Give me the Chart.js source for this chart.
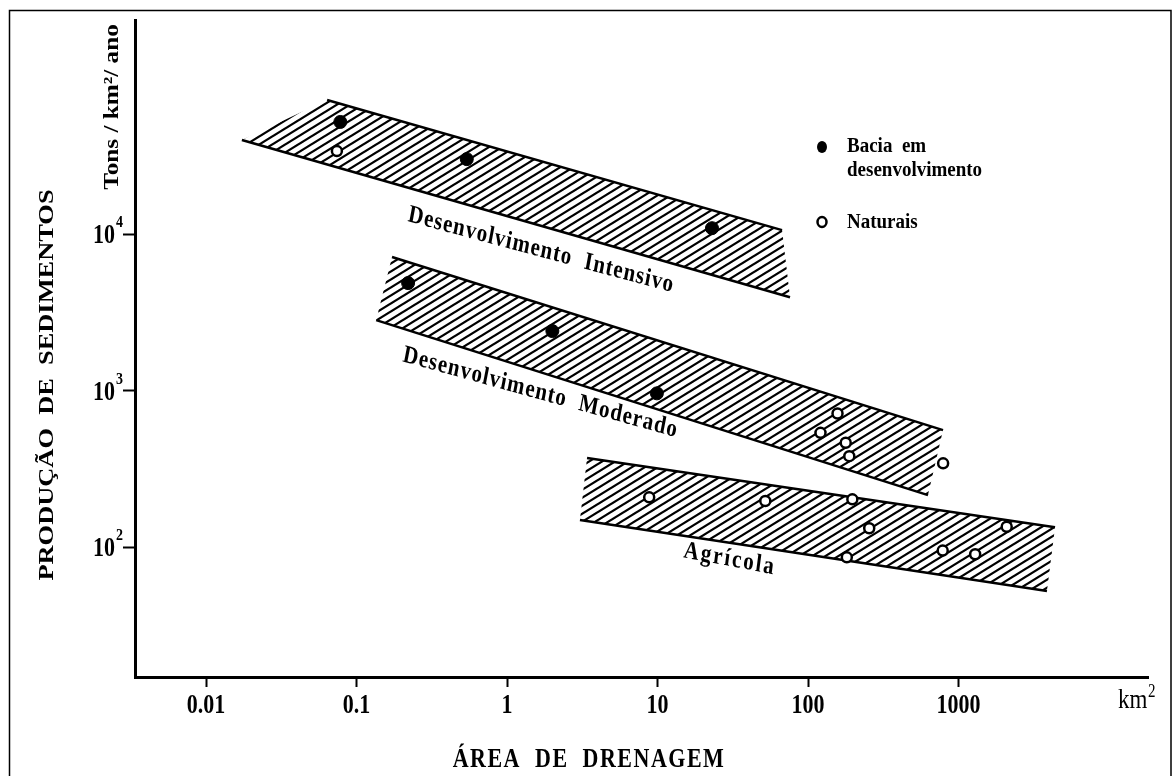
<!DOCTYPE html>
<html lang="pt">
<head>
<meta charset="utf-8">
<title>Produção de sedimentos x área de drenagem</title>
<script src="https://cdn.jsdelivr.net/npm/chart.js@4.4.1/dist/chart.umd.min.js"></script>
<style>
    html, body { margin: 0; padding: 0; background: #fff; }
    canvas { display: block; }
</style>
</head>
<body>
<canvas id="sedimentosChart" width="1173" height="776"></canvas>
<script>
// Eixos (escala log-log)
var xTicks = [0.01, 0.1, 1, 10, 100, 1000];
var xTickLabels = ["0.01", "0.1", "1", "10", "100", "1000"];
var yTicks = [100, 1000, 10000];
var yTickBase = "10";
var yTickExp = ["2", "3", "4"];
var xMin = 0.00337, xMax = 18160;
var yMin = 14.8, yMax = 233000;

// Bacia em desenvolvimento (pontos cheios)
var baciaX = [0.078, 0.54, 23, 0.22, 2.0, 9.9];
var baciaY = [52000, 30100, 10900, 4860, 2400, 960];

// Naturais (pontos vazios)
var naturaisX = [0.074, 157, 121, 178, 188, 790, 8.8, 52, 197, 255, 181, 785, 1290, 2090];
var naturaisY = [33900, 714, 537, 464, 381, 343, 208, 197, 202, 132, 86, 95, 90, 135];

// Faixas hachuradas: canto inf. esq., sup. esq., sup. dir., inf. dir.
var intensivoX = [0.0173, 0.0637, 67.2, 75.9];
var intensivoY = [39900, 71800, 10600, 3950];
var moderadoX = [0.135, 0.172, 789, 627];
var moderadoY = [2820, 7130, 559, 215];
var agricolaX = [3.05, 3.40, 4380, 3870];
var agricolaY = [149, 371, 134, 52.4];

var faixaNomes = ["Desenvolvimento  Intensivo", "Desenvolvimento  Moderado", "Agrícola"];

// onde escrever o nome de cada faixa (coordenadas do grafico) e inclinação na tela
var rotulosPos = [
    { x: 0.217, y: 12100, ang: 15, esp: "1px" },
    { x: 0.2005, y: 1542, ang: 15.5, esp: "1px" },
    { x: 14.77, y: 86.3, ang: 10.7, esp: "2px" }
];

var serif = "'Liberation Serif', 'Times New Roman', serif";
var K = 1.2; // a figura original e esticada na vertical
var canvas = document.getElementById("sedimentosChart");
var ctx = canvas.getContext("2d");

// padrão de hachura diagonal (linhas subindo para a direita)
function hachura() {
    var w = 13, h = 8;
    var tile = document.createElement("canvas");
    tile.width = w;
    tile.height = h;
    var g = tile.getContext("2d");
    g.strokeStyle = "#000";
    g.lineWidth = 2.2;
    for (var k = -1; k <= 1; k++) {
        g.beginPath();
        g.moveTo(k * w - w, 2 * h);
        g.lineTo(k * w + 2 * w, -h);
        g.stroke();
    }
    return ctx.createPattern(tile, "repeat");
}
var padrao = hachura();

function pts(xs, ys, idx) {
    return idx.map(function (i) { return { x: xs[i], y: ys[i] }; });
}

function faixa(xs, ys) {
    // cadeia de cima e de baixo, do canto mais a esquerda ao mais a direita
    var sup = [0, 1, 2], inf = [0, 3];
    if (xs[3] > xs[2]) sup.push(3); else inf.push(2);
    var semLinha = "rgba(0,0,0,0)";
    return [
        { data: pts(xs, ys, sup), fill: "+1", backgroundColor: padrao, borderColor: semLinha, borderWidth: 1, pointRadius: 0, order: 5 },
        { data: pts(xs, ys, inf), fill: false, borderColor: semLinha, borderWidth: 1, pointRadius: 0, order: 5 },
        { data: pts(xs, ys, [1, 2]), fill: false, borderColor: "#000", borderWidth: 2.5, pointRadius: 0, order: 3 },
        { data: pts(xs, ys, [0, 3]), fill: false, borderColor: "#000", borderWidth: 2.5, pointRadius: 0, order: 3 }
    ];
}

var datasets = []
    .concat(faixa(intensivoX, intensivoY))
    .concat(faixa(moderadoX, moderadoY))
    .concat(faixa(agricolaX, agricolaY));

datasets.push({
    label: "Bacia em desenvolvimento",
    data: pts(baciaX, baciaY, baciaX.map(function (v, i) { return i; })),
    showLine: false, pointRadius: 6.5, pointBackgroundColor: "#000",
    pointBorderColor: "#000", pointBorderWidth: 1, order: 0
});
datasets.push({
    label: "Naturais",
    data: pts(naturaisX, naturaisY, naturaisX.map(function (v, i) { return i; })),
    showLine: false, pointRadius: 5, pointBackgroundColor: "#fff",
    pointBorderColor: "#000", pointBorderWidth: 2.5, order: 1
});

// escreve texto com o mesmo esticamento vertical da figura
function escreve(c, txt, x, y, o) {
    var k = o.k || K;
    c.save();
    c.translate(x, y);
    c.scale(1, k);
    if (o.rot) c.rotate(o.rot);
    if (o.ang) c.rotate(Math.atan(Math.tan(o.ang * Math.PI / 180) / k));
    c.font = o.font;
    c.letterSpacing = o.esp || "0px";
    c.textAlign = o.align || "left";
    c.textBaseline = o.base || "alphabetic";
    c.fillText(txt, 0, 0);
    c.restore();
}

// textos, legenda e moldura
var textosPlugin = {
    id: "textos",
    afterDraw: function (chart) {
        var c = chart.ctx;
        var sx = chart.scales.x, sy = chart.scales.y;
        c.save();
        c.fillStyle = "#000";
        c.strokeStyle = "#000";

        // moldura
        c.lineWidth = 1.5;
        c.beginPath();
        c.moveTo(9.5, 776);
        c.lineTo(9.5, 10.5);
        c.lineTo(1171, 10.5);
        c.lineTo(1171, 776);
        c.stroke();

        // rotulos dos ticks
        xTicks.forEach(function (v, i) {
            escreve(c, xTickLabels[i], sx.getPixelForValue(v), 713,
                { font: "bold 22px " + serif, align: "center" });
        });
        yTicks.forEach(function (v, i) {
            var py = sy.getPixelForValue(v);
            escreve(c, yTickBase, 115, py + 9, { font: "bold 22px " + serif, align: "right" });
            escreve(c, yTickExp[i], 116, py - 7, { font: "bold 14px " + serif });
        });

        // titulos dos eixos
        escreve(c, "PRODUÇÃO  DE  SEDIMENTOS", 47, 385,
            { font: "bold 22px " + serif, rot: -Math.PI / 2, align: "center", base: "middle" });
        escreve(c, "Tons / km²/ ano", 113, 107,
            { font: "bold 21px " + serif, rot: -Math.PI / 2, align: "center", base: "middle" });
        escreve(c, "ÁREA  DE  DRENAGEM", 589, 767,
            { font: "bold 22px " + serif, align: "center", esp: "1.5px" });
        escreve(c, "km", 1118, 708, { font: "23px " + serif });
        escreve(c, "2", 1148, 697, { font: "15px " + serif });

        // legenda
        c.beginPath();
        c.ellipse(822, 147, 5, 6, 0, 0, Math.PI * 2);
        c.fill();
        c.beginPath();
        c.ellipse(822, 222, 4.5, 5, 0, 0, Math.PI * 2);
        c.lineWidth = 2.5;
        c.stroke();
        var leg = { font: "bold 19px " + serif, base: "middle", k: 1.1 };
        escreve(c, "Bacia  em", 847, 147, leg);
        escreve(c, "desenvolvimento", 847, 171, leg);
        escreve(c, "Naturais", 847, 223, leg);

        // nomes das faixas
        rotulosPos.forEach(function (r, i) {
            escreve(c, faixaNomes[i], sx.getPixelForValue(r.x), sy.getPixelForValue(r.y),
                { font: "bold 21px " + serif, ang: r.ang, esp: r.esp });
        });
        c.restore();
    }
};

var sedimentosChart = new Chart(ctx, {
    type: "line",
    data: { datasets: datasets },
    options: {
        responsive: false,
        animation: false,
        events: [],
        layout: { padding: { left: 0, top: 20, right: 25, bottom: 0 } },
        plugins: {
            legend: { display: false },
            tooltip: { enabled: false }
        },
        scales: {
            x: {
                type: "logarithmic",
                min: xMin,
                max: xMax,
                afterBuildTicks: function (s) {
                    s.ticks = xTicks.map(function (v) { return { value: v }; });
                },
                afterFit: function (s) { s.height = 99; },
                ticks: { display: false, autoSkip: false },
                grid: { drawOnChartArea: false, tickLength: 10, tickWidth: 2, tickColor: "#000" },
                border: { display: true, color: "#000", width: 3 }
            },
            y: {
                type: "logarithmic",
                min: yMin,
                max: yMax,
                afterBuildTicks: function (s) {
                    s.ticks = yTicks.map(function (v) { return { value: v }; });
                },
                afterFit: function (s) { s.width = 135; },
                ticks: { display: false, autoSkip: false },
                grid: { drawOnChartArea: false, tickLength: 12, tickWidth: 2, tickColor: "#000" },
                border: { display: true, color: "#000", width: 3 }
            }
        }
    },
    plugins: [textosPlugin]
});
</script>
</body>
</html>
